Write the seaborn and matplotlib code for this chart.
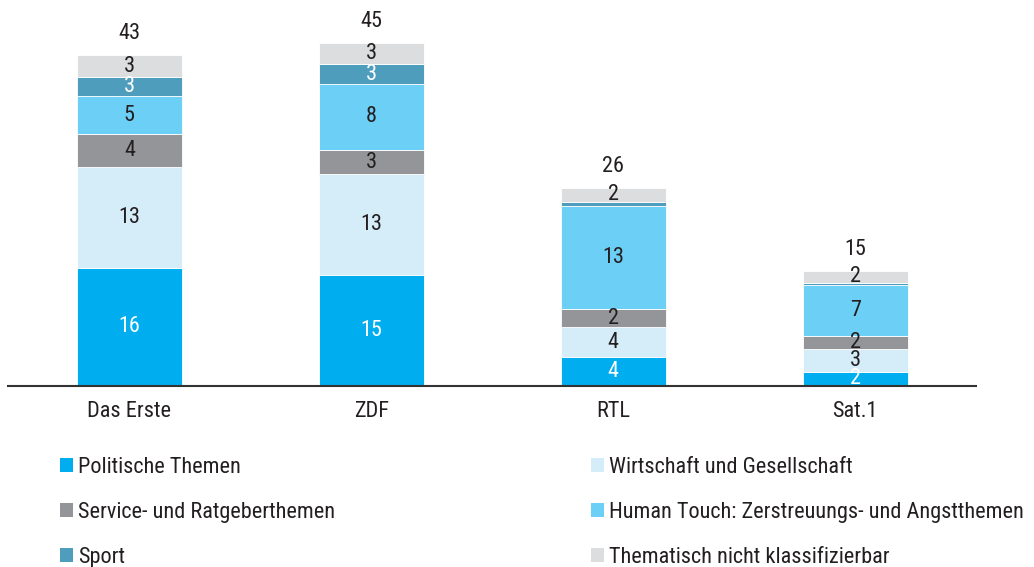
import numpy as np
import pandas as pd
import matplotlib
matplotlib.use("Agg")
import matplotlib.pyplot as plt
import matplotlib.font_manager as fm
from matplotlib.patches import Patch
import seaborn as sns

# Data
channels = ["Das Erste", "ZDF", "RTL", "Sat.1"]
topics = [
    "Politische Themen",
    "Wirtschaft und Gesellschaft",
    "Service- und Ratgeberthemen",
    "Human Touch: Zerstreuungs- und Angstthemen",
    "Sport",
    "Thematisch nicht klassifizierbar",
]
# segment heights (estimated from bar geometry)
politik = [15.5, 14.5, 3.8, 1.9]
wirtschaft = [13.2, 13.2, 3.9, 2.9]
service = [4.2, 3.2, 2.4, 1.8]
human_touch = [5.0, 8.6, 13.4, 6.6]
sport = [2.5, 2.6, 0.6, 0.3]
nicht_klass = [2.9, 2.8, 1.8, 1.6]
# printed labels
politik_lbl = [16, 15, 4, 2]
wirtschaft_lbl = [13, 13, 4, 3]
service_lbl = [4, 3, 2, 2]
human_touch_lbl = [5, 8, 13, 7]
sport_lbl = [3, 3, None, None]
nicht_klass_lbl = [3, 3, 2, 2]
totals = [43, 45, 26, 15]

colors = ["#00AEEF", "#D5ECF9", "#939598", "#6CCFF6", "#4F9DBD", "#DCDDDE"]
label_colors = ["white", "#231F20", "#231F20", "#231F20", "white", "#231F20"]

sns.set_theme(style="white")

# pick a condensed sans if one is installed
available = {f.name for f in fm.fontManager.ttflist}
font_name, stretch = None, "normal"
for cand in ["Roboto Condensed", "Liberation Sans Narrow", "Open Sans Condensed",
             "DejaVu Sans Condensed", "Noto Sans Condensed"]:
    if cand in available:
        font_name = cand
        break
if font_name is None:
    cond = [f for f in fm.fontManager.ttflist
            if str(f.stretch) in ("condensed", "semi-condensed")
            and str(f.style) == "normal" and f.weight in (400, "normal", "regular")]
    if cond:
        font_name, stretch = cond[0].name, cond[0].stretch
if font_name is None:
    font_name, fs = "DejaVu Sans", 13.5
else:
    fs = 16
plt.rcParams["font.family"] = [font_name, "DejaVu Sans"]
plt.rcParams["font.stretch"] = stretch

fig = plt.figure(figsize=(10.34, 5.67), dpi=100)
ax = fig.add_axes([0.0082, 0.319, 0.9358, 0.6475])

layers = [politik, wirtschaft, service, human_touch, sport, nicht_klass]
labels = [politik_lbl, wirtschaft_lbl, service_lbl, human_touch_lbl, sport_lbl, nicht_klass_lbl]
bottom = np.zeros(len(channels))
for vals, lbls, col, tcol in zip(layers, labels, colors, label_colors):
    vals = np.array(vals, dtype=float)
    df = pd.DataFrame({"channel": channels, "value": vals})
    sns.barplot(data=df, x="channel", y="value", color=col, saturation=1,
                width=0.434, bottom=bottom, edgecolor="white", linewidth=0.6,
                errorbar=None, ax=ax)
    for i, (v, l) in enumerate(zip(vals, lbls)):
        if l is None:
            continue
        ax.text(i, bottom[i] + v / 2, str(l), ha="center", va="center",
                fontsize=fs, color=tcol)
    bottom = bottom + vals

for i, t in enumerate(totals):
    ax.annotate(str(t), (i, bottom[i]), xytext=(0, 15.5), textcoords="offset points",
                ha="center", va="center", fontsize=fs, color="#231F20")

ax.set_xlim(-0.5, 3.5)
ax.set_ylim(0, 48)
ax.set_xlabel("")
ax.set_ylabel("")
ax.set_yticks([])
ax.tick_params(axis="x", length=0, pad=11, labelsize=fs, labelcolor="#231F20")
for s in ["top", "left", "right"]:
    ax.spines[s].set_visible(False)
ax.spines["bottom"].set_color("#333333")
ax.spines["bottom"].set_linewidth(1.5)

handles = [Patch(facecolor=c, edgecolor="none", label=t) for c, t in zip(colors, topics)]
leg_kw = dict(frameon=False, fontsize=fs, handlelength=0.58, handleheight=0.58,
              handletextpad=0.25, labelspacing=1.07, borderpad=0, borderaxespad=0,
              labelcolor="#231F20")
fig.legend(handles=[handles[0], handles[2], handles[4]], loc="upper left",
           bbox_to_anchor=(60 / 1034, 1 - 457 / 567), **leg_kw)
fig.legend(handles=[handles[1], handles[3], handles[5]], loc="upper left",
           bbox_to_anchor=(591 / 1034, 1 - 457 / 567), **leg_kw)

fig.savefig("out.png", dpi=100)
